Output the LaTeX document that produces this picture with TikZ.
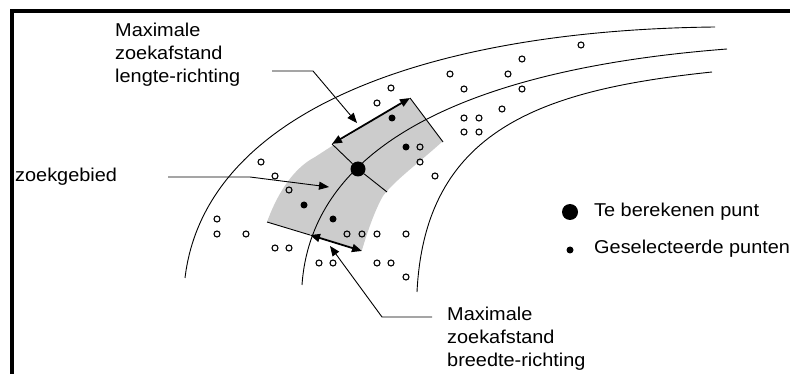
\documentclass[tikz,border=0pt]{standalone}
\usepackage{fontspec}
\setmainfont[FakeStretch=1.07]{Liberation Sans}
\usetikzlibrary{arrows.meta}
\begin{document}
\begin{tikzpicture}[x=1pt,y=-1pt,
  road/.style={line width=0.9pt},
  thinline/.style={line width=0.9pt},
  callout/.style={line width=0.9pt,-{Triangle[length=10pt,width=8pt]}},
  dbl/.style={line width=1.8pt,{Triangle[length=10pt,width=8pt]}-{Triangle[length=10pt,width=8pt]}},
  openpt/.style={circle,draw,line width=1.1pt,minimum size=6pt,inner sep=0pt},
  selpt/.style={circle,fill,minimum size=7pt,inner sep=0pt},
  bigpt/.style={circle,fill,minimum size=15pt,inner sep=0pt},
  lbl/.style={font=\fontsize{18.6}{23}\selectfont,align=left,inner sep=0pt},
  frame/.style={line width=4pt}]
\useasboundingbox (0,0) rectangle (790,374);
% frame
\draw[frame] (10,11.5) -- (790,11.5);
\draw[frame] (12,9.5) -- (12,374);
% search area
\fill[black!20] (332,146) -- (410,98) -- (443,141)
  .. controls (420,162) and (395,180) .. (383,196)
  .. controls (375,210) and (368,230) .. (362,250)
  -- (267,222)
  .. controls (275,200) and (290,170) .. (315,157)
  -- cycle;
% road lines
\draw[road] (185,278) .. controls (205,110) and (430,30) .. (715,27);
\draw[road] (302,285) .. controls (312,140) and (480,68) .. (727,49);
\draw[road] (417,292) .. controls (425,130) and (540,90) .. (712,72);
% points
\node[bigpt] (bigdot) at (358,169) {};
\coordinate (xa) at (332,144);
\coordinate (xb) at (387,192);
\draw[thinline] (xa) -- (bigdot) -- (xb);
\coordinate (ra) at (410,98);
\coordinate (rb) at (443,142);
\draw[thinline] (ra) -- (rb);
\coordinate (ba) at (267,222);
\coordinate (bb) at (310,235);
\coordinate (bc) at (362,251);
\draw[thinline] (ba) -- (bb);
\draw[dbl] (bb) -- (bc);
\draw[dbl] (xa) -- (ra);
\foreach \x/\y [count=\i] in {392/118,406/147,304/205,333/219}
  \node[selpt] (s\i) at (\x,\y) {};
\foreach \x/\y [count=\i] in {581/45,522/59,450/74,508/74,391/88,464/89,522/89,377/103,502/109,464/118,479/118,464/132,479/132,420/147,420/162,435/176,261/162,275/176,289/190,217/219,217/234,246/234,275/248,289/248,319/263,333/263,347/234,362/234,377/234,406/234,377/263,391/263,406/277}
  \node[openpt] (o\i) at (\x,\y) {};
% labels
\node[lbl,anchor=north west] (lbl1) at (115,22.7) {Maximale\\zoekafstand\\lengte-richting};
\node[lbl,anchor=base west] (lbl2) at (15,182) {zoekgebied};
\node[lbl,anchor=north west] (lbl3) at (447,306.7) {Maximale\\zoekafstand\\breedte-richting};
\coordinate (c1a) at (272,71);
\coordinate (c1b) at (313,71);
\coordinate (c1t) at (357,123);
\draw[callout] (c1a) -- (c1b) -- (c1t);
\coordinate (c2a) at (168,177);
\coordinate (c2b) at (250,177);
\coordinate (c2t) at (329,187);
\draw[callout] (c2a) -- (c2b) -- (c2t);
\coordinate (c3a) at (432,317);
\coordinate (c3b) at (382,317);
\coordinate (c3t) at (330,246);
\draw[callout] (c3a) -- (c3b) -- (c3t);
% legend
\node[circle,fill,minimum size=16pt,inner sep=0pt] (legbig) at (570,212) {};
\node[selpt] (legsmall) at (570,250) {};
\node[lbl,anchor=base west] (leg1) at (594,217) {Te berekenen punt};
\node[lbl,anchor=base west] (leg2) at (594,254) {Geselecteerde punten};
\end{tikzpicture}
\end{document}
